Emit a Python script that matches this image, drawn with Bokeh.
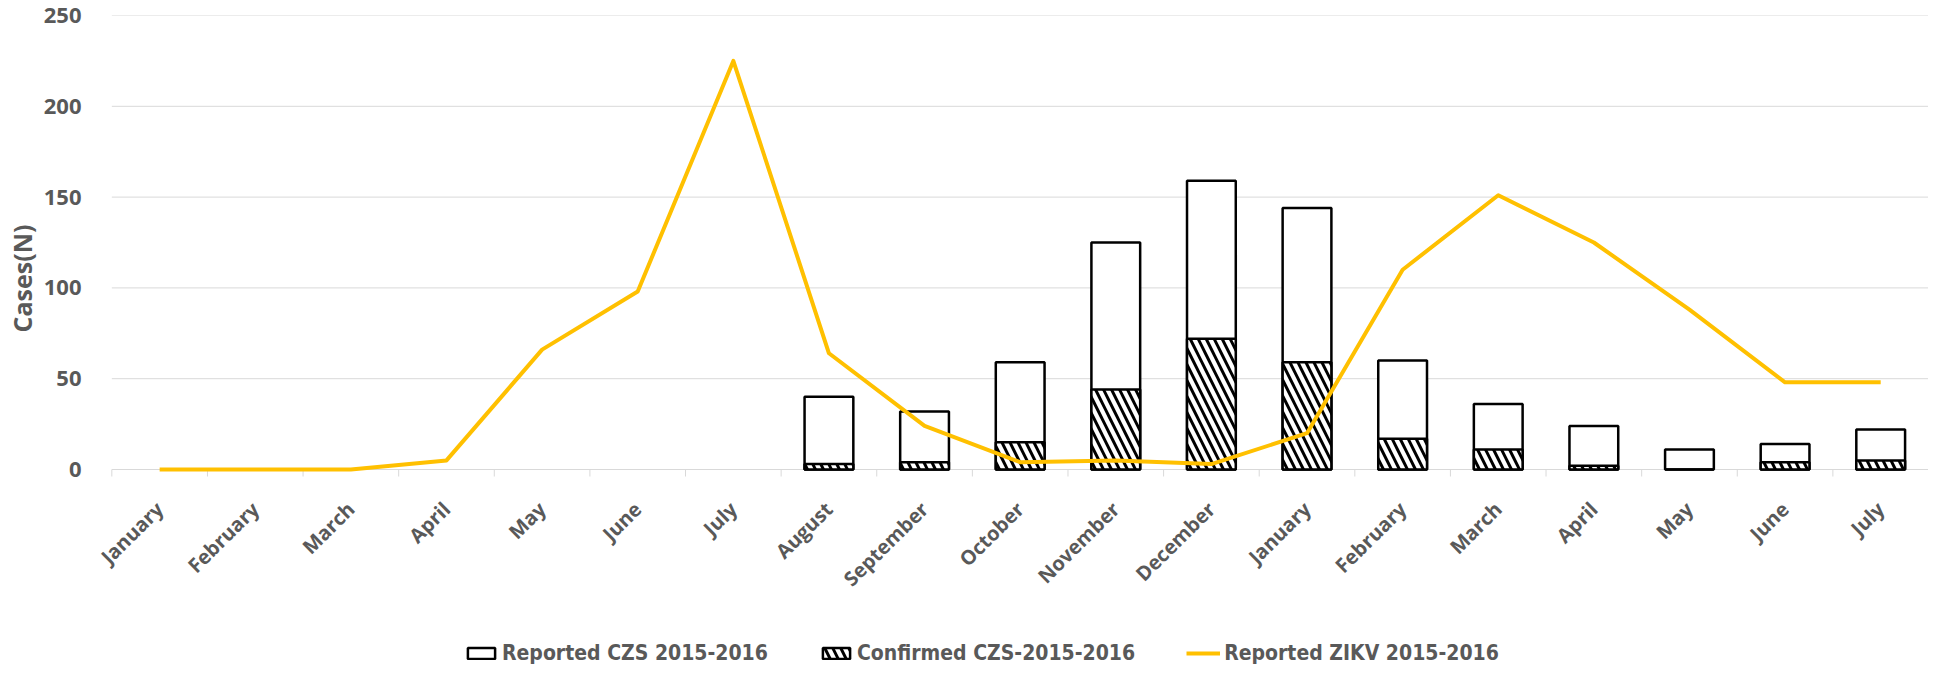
from bokeh.plotting import figure
from bokeh.models import (ColumnDataSource, Range1d, FixedTicker, Legend, LegendItem,
                          LabelSet, Title)
from bokeh.core.properties import value
from bokeh.embed import file_html
from bokeh.resources import INLINE

months = ["January", "February", "March", "April", "May", "June", "July",
          "August", "September", "October", "November", "December",
          "January", "February", "March", "April", "May", "June", "July"]
zikv = [0, 0, 0, 5, 66, 98, 225, 64, 24, 4, 5, 3, 20, 110, 151, 125, 88, 48, 48]
reported_czs = [None, None, None, None, None, None, None,
                40, 32, 59, 125, 159, 144, 60, 36, 24, 11, 14, 22]
confirmed_czs = [None, None, None, None, None, None, None,
                 3, 4, 15, 44, 72, 59, 17, 11, 2, 0, 4, 5]
y_ticks = [0, 50, 100, 150, 200, 250]

GREY = "#595959"
GRID = "#d9d9d9"

# layout (pixels) -> data units
TOP_PX = 15
ZERO_PX = 469
PX_PER_UNIT = (ZERO_PX - TOP_PX) / 250.0
BELOW_PX = 667 - ZERO_PX
Y_BOTTOM = -BELOW_PX / PX_PER_UNIT
TICK_LEN = -7 / PX_PER_UNIT
LABEL_Y = -36 / PX_PER_UNIT
X_START = -0.5 - 24.5 / 96.24
LABEL_ANGLE = 0.78

xs = list(range(len(months)))
bar_x = [x for x, v in zip(xs, reported_czs) if v is not None]
bar_rep = [v for v in reported_czs if v is not None]
bar_conf = [v for v in confirmed_czs if v is not None]
bounds = [x - 0.5 for x in xs] + [len(xs) - 0.5]

line_src = ColumnDataSource(dict(x=xs, y=zikv))
bar_src = ColumnDataSource(dict(x=bar_x, rep=bar_rep, conf=bar_conf))
lab_src = ColumnDataSource(dict(x=xs, y=[LABEL_Y] * len(xs), t=months))
tick_src = ColumnDataSource(dict(x=bounds, y0=[0] * len(bounds), y1=[TICK_LEN] * len(bounds)))
grid_src = ColumnDataSource(dict(y=y_ticks, x0=[bounds[0]] * len(y_ticks),
                                 x1=[bounds[-1]] * len(y_ticks)))

p = figure(width=1928, height=667, output_backend="svg", toolbar_location=None,
           x_range=Range1d(X_START, len(months) - 0.5), y_range=Range1d(Y_BOTTOM, 250),
           min_border_left=75, min_border_right=0, min_border_top=TOP_PX,
           min_border_bottom=0)
p.outline_line_color = None
p.background_fill_color = "white"
p.xaxis.visible = False
p.xgrid.grid_line_color = None
p.ygrid.grid_line_color = None

# horizontal grid lines, category boundary ticks, month labels
p.segment(x0="x0", x1="x1", y0="y", y1="y", source=grid_src, line_color=GRID, line_width=1)
p.segment(x0="x", x1="x", y0="y0", y1="y1", source=tick_src, line_color=GRID, line_width=1)
labels = LabelSet(x="x", y="y", text="t", source=lab_src, angle=LABEL_ANGLE, angle_units="rad",
                  text_align="right", text_baseline="middle",
                  text_font=value("Open Sans"), text_font_style="bold",
                  text_font_size="20px", text_color=GREY)
p.add_layout(labels)

r_rep = p.vbar(x="x", top="rep", bottom=0, width=0.51, source=bar_src,
               fill_color="white", line_color="black", line_width=2.5)
r_conf = p.vbar(x="x", top="conf", bottom=0, width=0.51, source=bar_src,
                fill_color="white", line_color="black", line_width=2.5,
                hatch_pattern="\\", hatch_color="black", hatch_scale=16,
                hatch_weight=3)
r_line = p.line(x="x", y="y", source=line_src, line_color="#FFC000",
                line_width=4, line_join="round")

# y axis
p.yaxis.ticker = FixedTicker(ticks=y_ticks)
p.yaxis.axis_line_color = None
p.yaxis.major_tick_line_color = None
p.yaxis.minor_tick_line_color = None
p.yaxis.major_label_text_font = "Open Sans"
p.yaxis.major_label_text_font_style = "bold"
p.yaxis.major_label_text_font_size = "22px"
p.yaxis.major_label_text_color = GREY
p.yaxis.major_label_standoff = 0

ytitle = Title(text="Cases(N)", align="left", offset=335, standoff=4,
               text_font="Open Sans", text_font_style="bold",
               text_font_size="25px", text_color=GREY)
p.add_layout(ytitle, "left")

legend = Legend(items=[
    LegendItem(label="Reported CZS 2015-2016", renderers=[r_rep]),
    LegendItem(label="Confirmed CZS-2015-2016", renderers=[r_conf]),
    LegendItem(label="Reported ZIKV 2015-2016", renderers=[r_line]),
], orientation="horizontal", location=(377, 2))
legend.label_text_font = "Liberation Sans Narrow, DejaVu Sans Condensed, sans-serif"
legend.label_text_font_style = "bold"
legend.label_text_font_size = "21px"
legend.label_text_color = GREY
legend.glyph_width = 34
legend.glyph_height = 14
legend.label_standoff = 4
legend.spacing = 51
legend.padding = 0
legend.margin = 0
legend.border_line_color = None
legend.background_fill_alpha = 0
p.add_layout(legend, "center")

open("out.html", "w").write(file_html(p, INLINE))
